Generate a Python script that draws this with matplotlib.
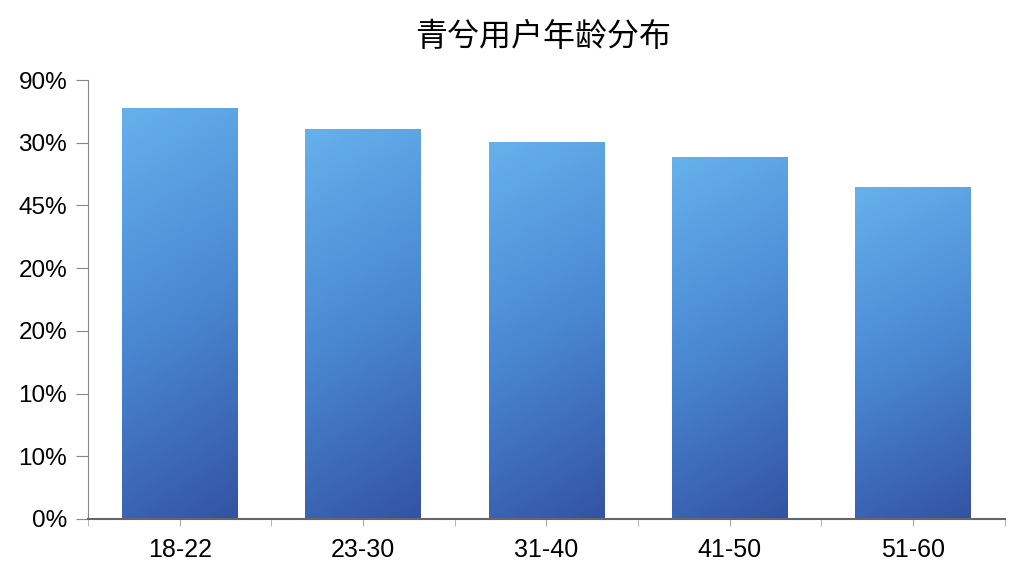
import numpy as np
import matplotlib.pyplot as plt
from matplotlib.colors import LinearSegmentedColormap

plt.rcParams['font.family'] = ['Noto Sans CJK SC', 'DejaVu Sans']

title = '青兮用户年龄分布'
groups = ['18-22', '23-30', '31-40', '41-50', '51-60']
values = [84.3, 80.0, 77.3, 74.2, 68.1]
ytick_labels = ['0%', '10%', '10%', '20%', '20%', '45%', '30%', '90%']

fig = plt.figure(figsize=(10.24, 5.76), dpi=100)
ax = fig.add_axes([0.086, 0.099, 0.895, 0.762])

cmap = LinearSegmentedColormap.from_list('bar', ['#66b1ec', '#4a88d2', '#3353a3'])
# diagonal gradient, light at top-left, dark at bottom-right
gy, gx = np.mgrid[0:1:200j, 0:1:60j]
grad = gy * 0.85 + gx * 0.15

width = 0.63
x = np.arange(len(groups))
bars = ax.bar(x, values, width=width, color='none', edgecolor='none', zorder=2)
for b in bars:
    x0, y0 = b.get_x(), b.get_y()
    w, h = b.get_width(), b.get_height()
    im = ax.imshow(grad, cmap=cmap, aspect='auto', origin='upper',
                   extent=[x0, x0 + w, y0, y0 + h], zorder=2, vmin=0, vmax=1)
    im.set_clip_path(b)

ax.set_xlim(-0.5, len(groups) - 0.5)
ax.set_ylim(0, 90)
ax.set_yticks(np.linspace(0, 90, 8))
ax.set_yticklabels(ytick_labels, fontsize=17.5, family=['Liberation Sans', 'DejaVu Sans'])
ax.set_xticks(x)
ax.set_xticklabels(groups, fontsize=18, family=['Liberation Sans', 'DejaVu Sans'])
ax.set_xticks(np.arange(-0.5, len(groups), 1.0), minor=True)

for s in ['top', 'right']:
    ax.spines[s].set_visible(False)
ax.spines['left'].set_color('#888888')
ax.spines['bottom'].set_color('#666666')
ax.spines['bottom'].set_linewidth(1.5)
ax.tick_params(axis='y', length=9, color='#888888', pad=6)
ax.tick_params(axis='x', which='both', length=5, color='#aaaaaa', direction='out', pad=9)

fig.text(0.53, 0.935, title, ha='center', va='center', fontsize=23)

fig.savefig('out.png', dpi=100, facecolor='white')
